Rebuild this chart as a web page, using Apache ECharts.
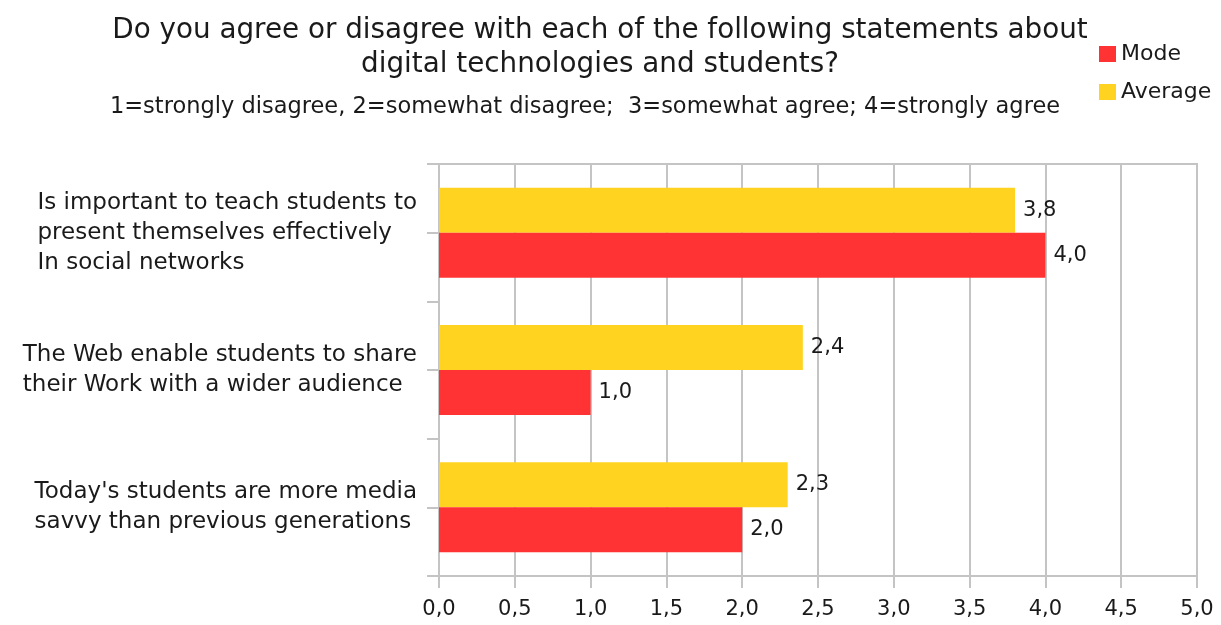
<!DOCTYPE html>
<html>
<head>
<meta charset="utf-8">
<script src="https://cdn.jsdelivr.net/npm/echarts@6/dist/echarts.min.js"></script>
<style>
  html, body { margin: 0; padding: 0; background: #fff; }
  #chart { width: 1221px; height: 625px; }
</style>
</head>
<body>
<div id="chart"></div>
<script>
// statements (top to bottom)
var categories = [
  'Is important to teach students to\npresent themselves effectively\nIn social networks',
  'The Web enable students to share\ntheir Work with a wider audience',
  'Today\'s students are more media\nsavvy than previous generations'
]
var averageValues = [3.8, 2.4, 2.3]
var modeValues = [4.0, 1.0, 2.0]

var font = 'DejaVu Sans'
var gridColor = '#c4c4c4'

function comma(v) {
  return Number(v).toFixed(1).replace('.', ',')
}

var chart = echarts.init(document.getElementById('chart'))
var option = {
  animation: false,
  title: [{
    text: 'Do you agree or disagree with each of the following statements about\ndigital technologies and students?',
    left: 595,
    top: 9,
    textAlign: 'center',
    textStyle: { fontFamily: font, fontSize: 27.8, lineHeight: 34, fontWeight: 'normal', color: '#1a1a1a' }
  }, {
    text: '1=strongly disagree, 2=somewhat disagree;  3=somewhat agree; 4=strongly agree',
    left: 580,
    top: 91,
    textAlign: 'center',
    textStyle: { fontFamily: font, fontSize: 22.5, fontWeight: 'normal', color: '#1a1a1a' }
  }],
  legend: {
    orient: 'vertical',
    left: 1094,
    top: 38,
    itemWidth: 17,
    itemHeight: 16,
    itemGap: 16,
    icon: 'rect',
    data: ['Mode', 'Average'],
    textStyle: { fontFamily: font, fontSize: 22, lineHeight: 22, color: '#1a1a1a' }
  },
  grid: {
    left: 439,
    right: 24,
    top: 164,
    bottom: 49,
    show: true,
    borderColor: gridColor,
    borderWidth: 2,
    containLabel: false
  },
  xAxis: {
    type: 'value',
    min: 0,
    max: 5,
    interval: 0.5,
    axisLine: { show: true, lineStyle: { color: gridColor, width: 2 } },
    axisTick: { show: true, length: 12, lineStyle: { color: gridColor, width: 2 } },
    splitLine: { show: true, lineStyle: { color: gridColor, width: 2 } },
    axisLabel: {
      margin: 23,
      fontFamily: font,
      fontSize: 21,
      color: '#1a1a1a',
      formatter: function (v) { return comma(v) }
    }
  },
  yAxis: [{
    type: 'category',
    inverse: true,
    data: categories,
    axisLine: { show: true, lineStyle: { color: gridColor, width: 2 } },
    axisTick: { show: true, length: 12, lineStyle: { color: gridColor, width: 2 } },
    splitLine: { show: false },
    axisLabel: {
      margin: 22,
      fontFamily: font,
      color: '#1a1a1a',
      formatter: function (v) {
        return v.split('\n').map(function (l) { return '{a|' + l + '}' }).join('\n')
      },
      rich: {
        a: { align: 'left', fontFamily: font, fontSize: 23, lineHeight: 30, color: '#1a1a1a' }
      }
    }
  }, {
    type: 'category',
    inverse: true,
    position: 'left',
    data: categories,
    axisLine: { show: false },
    axisTick: { show: true, alignWithLabel: true, length: 12, lineStyle: { color: gridColor, width: 2 } },
    axisLabel: { show: false },
    splitLine: { show: false }
  }],
  series: [{
    name: 'Average',
    type: 'bar',
    z: 5,
    data: averageValues,
    barWidth: 45,
    barGap: '0%',
    itemStyle: { color: '#ffd320' },
    label: {
      show: true,
      position: 'right',
      distance: 8,
      fontFamily: font,
      fontSize: 21,
      color: '#1a1a1a',
      formatter: function (p) { return comma(p.value) }
    }
  }, {
    name: 'Mode',
    type: 'bar',
    z: 5,
    data: modeValues,
    barWidth: 45,
    barGap: '0%',
    itemStyle: { color: '#ff3333' },
    label: {
      show: true,
      position: 'right',
      distance: 8,
      fontFamily: font,
      fontSize: 21,
      color: '#1a1a1a',
      formatter: function (p) { return comma(p.value) }
    }
  }]
}
chart.setOption(option)
</script>
</body>
</html>
